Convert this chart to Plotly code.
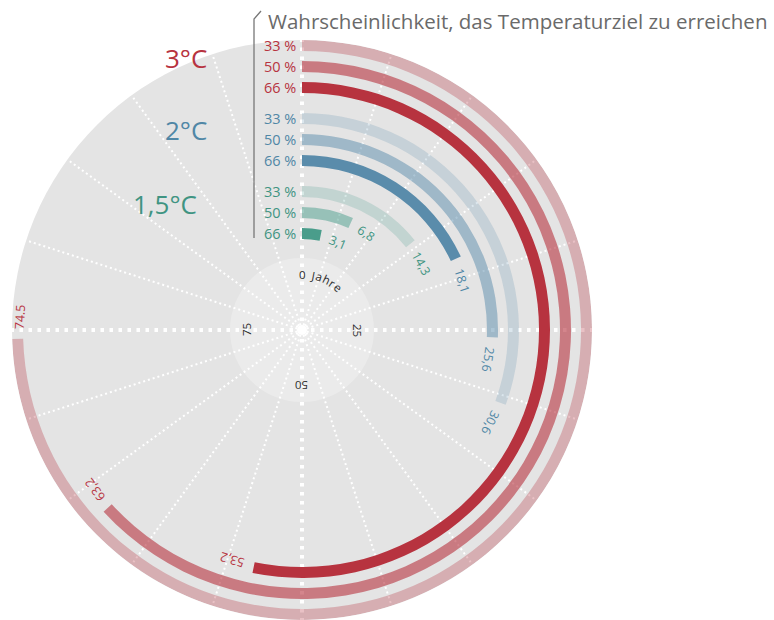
import math
import plotly.graph_objects as go

# ---------------- data ----------------
temperature_targets = ["1,5°C", "2°C", "3°C"]
probability_labels = ["66 %", "50 %", "33 %"]
years_1_5 = [3.1, 6.8, 14.3]
years_2 = [18.1, 25.6, 30.6]
years_3 = [53.2, 63.2, 74.5]
value_labels_1_5 = ["3,1", "6,8", "14,3"]
value_labels_2 = ["18,1", "25,6", "30,6"]
value_labels_3 = ["53,2", "63,2", "74.5"]
axis_tick_years = [0, 25, 50, 75]
axis_tick_labels = ["0 Jahre", "25", "50", "75"]
spoke_step_years = 5
full_circle_years = 100
title_text = "Wahrscheinlichkeit, das Temperaturziel zu erreichen"

# ---------------- style / layout ----------------
W, H = 774, 620
CX, CY, R = 302, 330, 290
FONT = "Open Sans"
group_colors = ["#4a9d8b", "#5a8cab", "#b7333f"]
text_colors = ["#3f9482", "#5087a6", "#b7333f"]
alphas = [[1.0, 0.5, 0.22], [1.0, 0.5, 0.22], [1.0, 0.6, 0.3]]
THICK, STEP, GROUP_STEP, R_INNER = 11, 21, 31, 96.5
BG = "#e4e4e4"
INNER_BG = "#ebebeb"

years = [years_1_5, years_2, years_3]
vlabels = [value_labels_1_5, value_labels_2, value_labels_3]


def deg(y):
    return y * 360.0 / full_circle_years


def rgba(hx, a):
    hx = hx.lstrip("#")
    r, g, b = int(hx[0:2], 16), int(hx[2:4], 16), int(hx[4:6], 16)
    return f"rgba({r},{g},{b},{a})"


def to_paper(theta_deg, r):
    t = math.radians(theta_deg)
    x = CX + r * math.sin(t)
    y = CY - r * math.cos(t)
    return x / W, 1 - y / H


def px(x, y):
    return x / W, 1 - y / H


def ring_center(gi, pi):
    return R_INNER + gi * (2 * STEP + GROUP_STEP) + pi * STEP


def text_width(s, size):
    w = 0
    for ch in s:
        if ch in ",.":
            w += 0.28
        elif ch == " ":
            w += 0.26
        elif ch == "J":
            w += 0.3
        elif ch == "r":
            w += 0.4
        else:
            w += 0.58
    return w * size


fig = go.Figure()

# bottom subplot: background disc + lighter inner disc
fig.add_trace(go.Barpolar(r=[72], base=[0], theta=[180], width=[360],
                          marker=dict(color=INNER_BG, line=dict(width=0)),
                          subplot="polar", hoverinfo="skip", showlegend=False))
# middle subplot: main spokes only (dummy trace)
fig.add_trace(go.Scatterpolar(r=[0], theta=[0], mode="markers",
                              marker=dict(size=0.1, opacity=0),
                              subplot="polar2", hoverinfo="skip", showlegend=False))

# top subplot: bars
for gi in range(3):
    thetas, widths, bases, rs, cols = [], [], [], [], []
    for pi in range(3):
        d = deg(years[gi][pi])
        rc = ring_center(gi, pi)
        thetas.append(d / 2)
        widths.append(d)
        bases.append(rc - THICK / 2)
        rs.append(THICK)
        cols.append(rgba(group_colors[gi], alphas[gi][pi]))
    fig.add_trace(go.Barpolar(r=rs, base=bases, theta=thetas, width=widths,
                              marker=dict(color=cols, line=dict(width=0)),
                              subplot="polar3", name=temperature_targets[gi],
                              hoverinfo="skip", showlegend=False))

# center white dot
fig.add_trace(go.Barpolar(r=[5], base=[0], theta=[180], width=[360],
                          marker=dict(color="white", line=dict(width=0)),
                          subplot="polar3", hoverinfo="skip", showlegend=False))

main_spokes = [deg(y) for y in axis_tick_years]
minor_spokes = [deg(y) for y in range(0, full_circle_years, spoke_step_years)
                if y not in axis_tick_years]

domain = dict(x=[(CX - R) / W, (CX + R) / W], y=[1 - (CY + R) / H, 1 - (CY - R) / H])


def polar_layout(bg, grid_vals, gw, gdash):
    return dict(
        domain=domain,
        bgcolor=bg,
        radialaxis=dict(visible=False, range=[0, R], autorange=False),
        angularaxis=dict(rotation=90, direction="clockwise", showticklabels=False,
                         ticks="", showline=False,
                         showgrid=bool(grid_vals), tickmode="array",
                         tickvals=grid_vals if grid_vals else [0],
                         gridcolor="white", gridwidth=gw, griddash=gdash),
    )


annotations = []

# value labels along arcs
for gi in range(3):
    for pi in range(3):
        d = deg(years[gi][pi])
        rc = ring_center(gi, pi)
        lab = vlabels[gi][pi]
        size = 12.5
        off = 10 + text_width(lab, size) / 2
        th = d + math.degrees(off / rc)
        x, y = to_paper(th, rc - 2)
        ang = th if th <= 180 else th - 360
        annotations.append(dict(x=x, y=y, xref="paper", yref="paper", text=lab,
                                showarrow=False, textangle=ang, xanchor="center",
                                yanchor="middle",
                                font=dict(family=FONT, size=size, color=text_colors[gi])))

# probability labels
for gi in range(3):
    for pi in range(3):
        rc = ring_center(gi, pi)
        x, y = px(CX - 4, CY - rc)
        annotations.append(dict(x=x, y=y, xref="paper", yref="paper",
                                text=probability_labels[pi], showarrow=False,
                                xanchor="right", yanchor="middle",
                                font=dict(family=FONT, size=14.5, color=text_colors[gi])))

# group labels
group_label_right = [199, 209, 209]
for gi in range(3):
    rc = ring_center(gi, 1)
    x, y = px(group_label_right[gi], CY - rc - 9)
    annotations.append(dict(x=x, y=y, xref="paper", yref="paper",
                            text=temperature_targets[gi], showarrow=False,
                            xanchor="right", yanchor="middle",
                            font=dict(family=FONT, size=26, color=text_colors[gi])))

# axis labels inside (tangential)
R_LAB = 56
for yv, lab in zip(axis_tick_years, axis_tick_labels):
    th0 = deg(yv)
    if " " in lab:
        size = 11.5
        pos = 0.0
        prev_w = None
        for ch in lab:
            w = text_width(ch, size)
            if prev_w is not None:
                pos += prev_w / 2 + w / 2 + 1.4
            prev_w = w
            if ch == " ":
                continue
            th = th0 + math.degrees(pos / R_LAB)
            x, y = to_paper(th, R_LAB)
            annotations.append(dict(x=x, y=y, xref="paper", yref="paper", text=ch,
                                    showarrow=False, textangle=th, xanchor="center",
                                    yanchor="middle",
                                    font=dict(family=FONT, size=size, color="#2a2a2a")))
    else:
        x, y = to_paper(th0, R_LAB)
        ang = th0 if th0 <= 180 else th0 - 360
        annotations.append(dict(x=x, y=y, xref="paper", yref="paper", text=lab,
                                showarrow=False, textangle=ang, xanchor="center",
                                yanchor="middle",
                                font=dict(family=FONT, size=11.5, color="#2a2a2a")))

# title
tx, ty = px(266, 21)
annotations.append(dict(x=tx, y=ty, xref="paper", yref="paper", text=title_text,
                        showarrow=False, xanchor="left", yanchor="middle",
                        font=dict(family=FONT, size=20.5, color="#6a6a6a")))

# leader line
p1, p2, p3 = px(261, 11), px(254, 19), px(254, 238)
shapes = [dict(type="path", xref="paper", yref="paper",
               path=f"M {p1[0]} {p1[1]} L {p2[0]} {p2[1]} L {p3[0]} {p3[1]}",
               line=dict(color="#777777", width=1.3))]

fig.update_layout(
    width=W, height=H,
    margin=dict(l=0, r=0, t=0, b=0),
    paper_bgcolor="white",
    plot_bgcolor="white",
    showlegend=False,
    polar=polar_layout(BG, None, 0, "solid"),
    polar2=polar_layout("rgba(0,0,0,0)", main_spokes, 3.5, "3.5px,5.5px"),
    polar3=polar_layout("rgba(0,0,0,0)", minor_spokes, 2, "2px,3px"),
    annotations=annotations,
    shapes=shapes,
)

fig.write_html("out.html", config={"displayModeBar": False},
               post_script="document.body.style.margin='0';document.body.style.overflow='hidden';")
